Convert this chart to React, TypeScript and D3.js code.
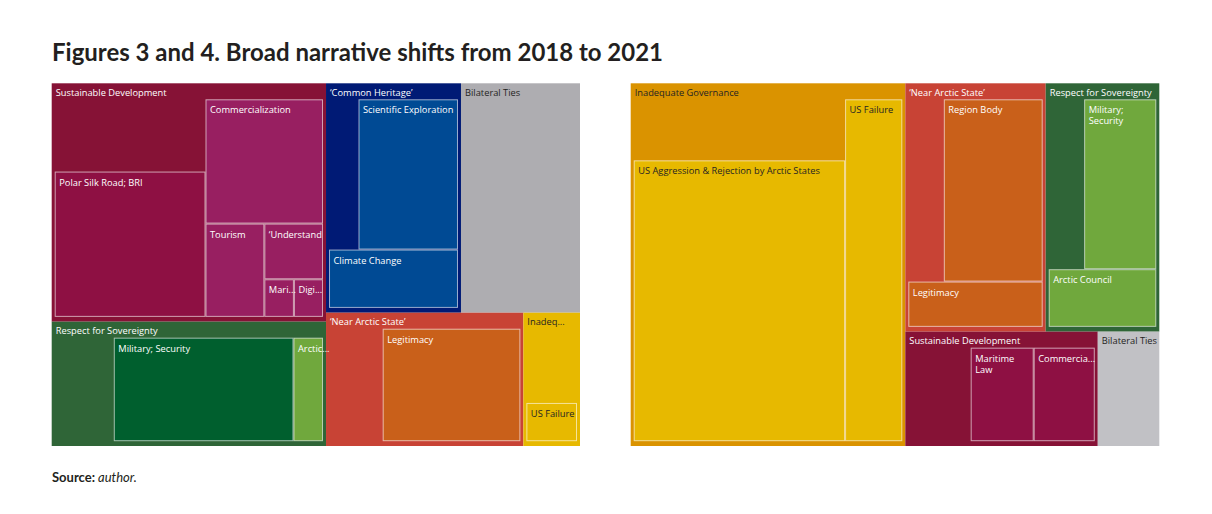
import React, { useMemo } from "react";
import * as d3 from "d3";

type Leaf = [string, number];
type Split = any[]; // ["h" | "v", ...(index | Split)]

// ---------------- Figure 3 (2018) ----------------
const CATEGORIES_2018 = [
  "Sustainable Development",
  "Respect for Sovereignty",
  "\u2018Common Heritage\u2019",
  "Bilateral Ties",
  "\u2018Near Arctic State\u2019",
  "Inadeq...",
];
// first entry of each list = the category's own (unassigned) share
const SUBS_2018: Leaf[][] = [
  [["", 6.37], ["Polar Silk Road; BRI", 12.81], ["Commercialization", 8.54], ["Tourism", 3.21], ["\u2018Understand", 1.91], ["Mari...", 0.65], ["Digi...", 0.64]],
  [["", 3.92], ["Military; Security", 11.92], ["Arctic...", 1.96]],
  [["", 2.66], ["Scientific Exploration", 8.98], ["Climate Change", 4.52]],
  [["", 14.25]],
  [["", 3.85], ["Legitimacy", 9.88]],
  [["", 2.6], ["US Failure", 1.34]],
];

// ---------------- Figure 4 (2021) ----------------
const CATEGORIES_2021 = [
  "Inadequate Governance",
  "\u2018Near Arctic State\u2019",
  "Respect for Sovereignty",
  "Sustainable Development",
  "Bilateral Ties",
];
const SUBS_2021: Leaf[][] = [
  [["", 7.3], ["US Aggression & Rejection by Arctic States", 33.59], ["US Failure", 11.07]],
  [["", 3.85], ["Region Body", 10.72], ["Legitimacy", 3.62]],
  [["", 3.62], ["Military; Security", 7.37], ["Arctic Council", 3.73]],
  [["", 3.84], ["Maritime Law", 3.88], ["Commercia...", 3.76]],
  [["", 3.67]],
];

// ---------------- tiling order (h = side by side, v = stacked) ----------------
const LAYOUT_2018: Split = ["h", ["v", 0, 1], ["v", ["h", 2, 3], ["h", 4, 5]]];
const SUB_LAYOUT_2018: Split[] = [
  ["h", ["v", 0, 1], ["v", 2, ["h", 3, ["v", 4, ["h", 5, 6]]]]],
  ["h", 0, 1, 2],
  ["v", ["h", 0, 1], 2],
  ["h", 0],
  ["h", 0, 1],
  ["v", 0, 1],
];
const LAYOUT_2021: Split = ["h", 0, ["v", ["h", 1, 2], ["h", 3, 4]]];
const SUB_LAYOUT_2021: Split[] = [
  ["h", ["v", 0, 1], 2],
  ["v", ["h", 0, 1], 2],
  ["v", ["h", 0, 1], 2],
  ["h", 0, 1, 2],
  ["h", 0],
];

// ---------------- styles ----------------
const FILLS_2018: string[][] = [
  ["#861236", "#8e1043", "#981f61", "#981f61", "#981f61", "#981f61", "#981f61"],
  ["#2f6537", "#005f2e", "#70a83d"],
  ["#001a75", "#004a94", "#004a94"],
  ["#aeadb1"],
  ["#c84335", "#c9601a"],
  ["#e7b900", "#e7b900"],
];
const FILLS_2021: string[][] = [
  ["#da9300", "#e7b900", "#e7b900"],
  ["#c84335", "#c9601a", "#c9601a"],
  ["#2f6537", "#70a83d", "#70a83d"],
  ["#861236", "#8e1043", "#8e1043"],
  ["#c1c1c5"],
];

const FONT_FAMILY = "'Open Sans', 'Noto Sans', sans-serif";
const FONT_SIZE = 9.3;
const LINE_HEIGHT = 11;
const CANVAS_FONT = `${FONT_SIZE}px 'Open Sans', 'Noto Sans', sans-serif`;
const DARK = "#252423";

let measureCtx: CanvasRenderingContext2D | null = null;
function measure(text: string): number {
  if (!measureCtx) measureCtx = document.createElement("canvas").getContext("2d");
  if (!measureCtx) return text.length * FONT_SIZE * 0.52;
  measureCtx.font = CANVAS_FONT;
  return measureCtx.measureText(text).width;
}
function wrap(text: string, maxW: number): string[] {
  const words = text.split(" ");
  const lines: string[] = [];
  let cur = "";
  for (const w of words) {
    const t = cur ? cur + " " + w : w;
    if (cur && measure(t) > maxW) {
      lines.push(cur);
      cur = w;
    } else cur = t;
  }
  if (cur) lines.push(cur);
  return lines;
}
const textColor = (fill: string) => (d3.lab(fill).l > 65 ? DARK : "#ffffff");

interface TreemapProps {
  x: number;
  y: number;
  width: number;
  height: number;
  categories: string[];
  subs: Leaf[][];
  layout: Split;
  subLayouts: Split[];
  fills: string[][];
}

function Treemap({ x, y, width, height, categories, subs, layout, subLayouts, fills }: TreemapProps) {
  const root = useMemo(() => {
    const buildSub = (spec: Split, ci: number): any => ({
      kind: "group",
      split: spec[0],
      children: spec.slice(1).map((s: any) =>
        typeof s === "number"
          ? { kind: "leaf", name: subs[ci][s][0], value: subs[ci][s][1], ci, li: s }
          : buildSub(s, ci)
      ),
    });
    const buildTop = (spec: Split): any => ({
      kind: "group",
      split: spec[0],
      children: spec.slice(1).map((s: any) => {
        if (typeof s !== "number") return buildTop(s);
        const sub = buildSub(subLayouts[s], s);
        return { kind: "cat", name: categories[s], ci: s, split: sub.split, children: sub.children };
      }),
    });
    const h = d3.hierarchy<any>(buildTop(layout)).sum((d: any) => d.value || 0);
    const tile = (node: any, x0: number, y0: number, x1: number, y1: number) => {
      (node.data.split === "v" ? d3.treemapSlice : d3.treemapDice)(node, x0, y0, x1, y1);
    };
    const isCat = (n: any) => n.data.kind === "cat";
    return d3
      .treemap<any>()
      .size([width, height])
      .tile(tile as any)
      .paddingInner(0)
      .paddingTop((n: any) => (isCat(n) ? 16 : 0))
      .paddingLeft((n: any) => (isCat(n) ? 3 : 0))
      .paddingRight((n: any) => (isCat(n) ? 3 : 0))
      .paddingBottom((n: any) => (isCat(n) ? 4.8 : 0))(h);
  }, [width, height, categories, subs, layout, subLayouts]);

  const cats = root.descendants().filter((n: any) => n.data.kind === "cat") as any[];
  const leaves = root.descendants().filter((n: any) => n.data.kind === "leaf" && n.data.name) as any[];

  return (
    <g transform={`translate(${x},${y})`}>
      {cats.map((c: any, i: number) => (
        <rect key={"c" + i} x={c.x0} y={c.y0} width={c.x1 - c.x0} height={c.y1 - c.y0} fill={fills[c.data.ci][0]} />
      ))}
      {leaves.map((l: any, i: number) => (
        <rect
          key={"l" + i}
          x={l.x0 + 0.5}
          y={l.y0 + 0.5}
          width={Math.max(0, l.x1 - l.x0 - 1)}
          height={Math.max(0, l.y1 - l.y0 - 1)}
          fill={fills[l.data.ci][l.data.li]}
          stroke="rgba(255,255,255,0.6)"
          strokeWidth={1}
        />
      ))}
      {leaves.map((l: any, i: number) => {
        const fill = fills[l.data.ci][l.data.li];
        const lines = wrap(l.data.name, l.x1 - l.x0 - 5);
        return (
          <text
            key={"lt" + i}
            x={l.x0 + 4.5}
            y={l.y0 + 14}
            fontFamily={FONT_FAMILY}
            fontSize={FONT_SIZE}
            fill={textColor(fill)}
          >
            {lines.map((t, j) => (
              <tspan key={j} x={l.x0 + 4.5} dy={j === 0 ? 0 : LINE_HEIGHT}>
                {t}
              </tspan>
            ))}
          </text>
        );
      })}
      {cats.map((c: any, i: number) => (
        <text
          key={"ct" + i}
          x={c.x0 + 4}
          y={c.y0 + 12.6}
          fontFamily={FONT_FAMILY}
          fontSize={FONT_SIZE}
          fill={textColor(fills[c.data.ci][0])}
        >
          {c.data.name}
        </text>
      ))}
    </g>
  );
}

export default function App() {
  return (
    <svg
      width={1212}
      height={514}
      style={{ position: "absolute", left: 0, top: 0, background: "#ffffff" }}
    >
      <rect x={0} y={0} width={1212} height={514} fill="#ffffff" />
      <text
        x={52}
        y={61}
        fontFamily="Lato, 'Open Sans', sans-serif"
        fontWeight={700}
        fontSize={24}
        fill="#231f20"
        textLength={611}
        lengthAdjust="spacingAndGlyphs"
      >
        Figures 3 and 4. Broad narrative shifts from 2018 to 2021
      </text>
      <Treemap
        x={51.7}
        y={83.3}
        width={528.3}
        height={362.7}
        categories={CATEGORIES_2018}
        subs={SUBS_2018}
        layout={LAYOUT_2018}
        subLayouts={SUB_LAYOUT_2018}
        fills={FILLS_2018}
      />
      <Treemap
        x={630.7}
        y={83.3}
        width={528.6}
        height={362.7}
        categories={CATEGORIES_2021}
        subs={SUBS_2021}
        layout={LAYOUT_2021}
        subLayouts={SUB_LAYOUT_2021}
        fills={FILLS_2021}
      />
      <text x={52} y={482} fontFamily="Lato, 'Open Sans', sans-serif" fontSize={13} fill="#231f20">
        <tspan fontWeight={700}>Source:</tspan>
        <tspan fontStyle="italic"> author.</tspan>
      </text>
    </svg>
  );
}
